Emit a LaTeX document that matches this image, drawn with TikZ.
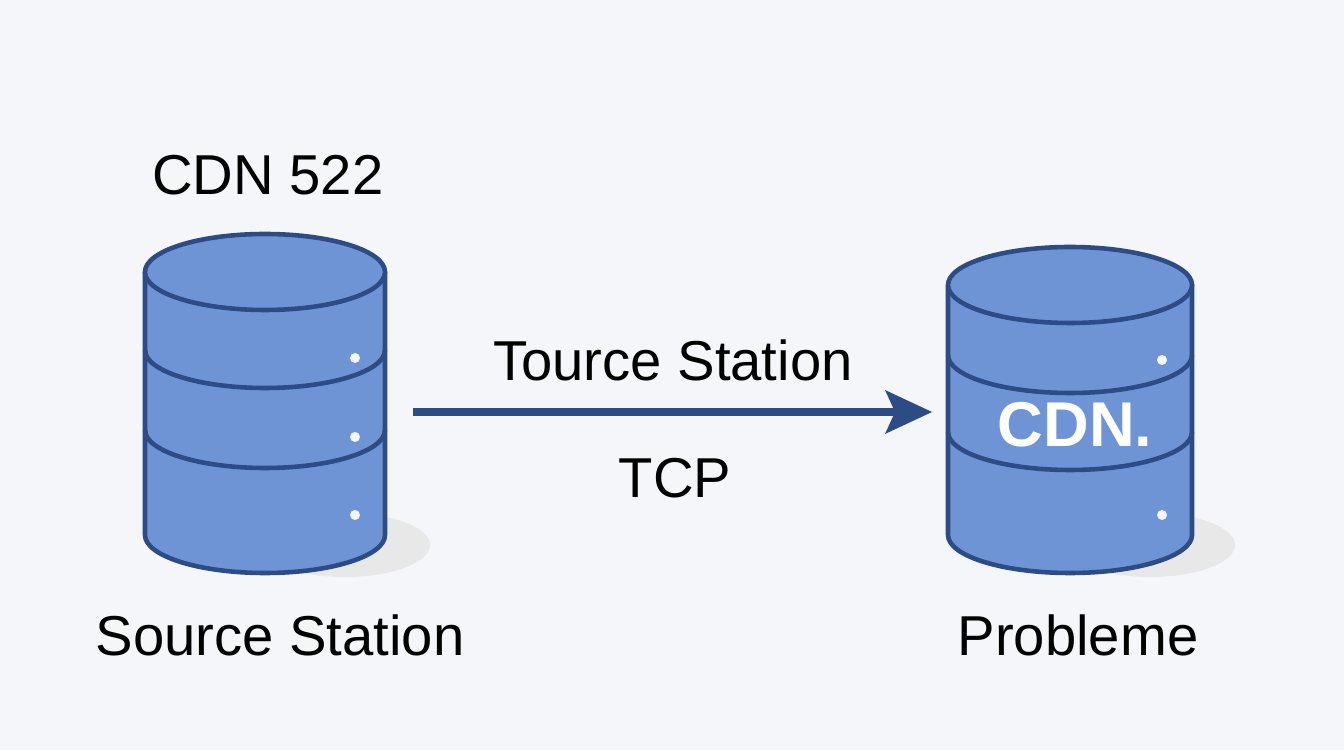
\documentclass[tikz,border=0pt]{standalone}
\usepackage{fontspec}
\setmainfont{Liberation Sans}
\begin{document}
\begin{tikzpicture}[x=0.02cm,y=0.02cm,
  cyl/.style={fill=cylfill,draw=cylline,line width=2.6pt,line join=round},
  band/.style={draw=cylline,line width=2.6pt},
  dot/.style={fill=white!92!cylfill,draw=none},
  lbl/.style={font=\fontsize{32}{36}\selectfont,text=black}]
\definecolor{cylfill}{HTML}{6F94D6}
\definecolor{cylline}{HTML}{2D4B85}
\definecolor{bg}{HTML}{F5F6FA}
\fill[bg] (0,0) rectangle (1344,750);
\useasboundingbox (0,0) rectangle (1344,750);
% shadows
\fill[gray!18] (345,205) ellipse[x radius=85,y radius=32];
\fill[gray!18] (1150,205) ellipse[x radius=85,y radius=32];
% left cylinder
\path[cyl] (145,478) -- (145,215) arc[start angle=180,end angle=360,x radius=120,y radius=38] -- (385,478) -- cycle;
\draw[band] (145,400) arc[start angle=180,end angle=360,x radius=120,y radius=38];
\draw[band] (145,320) arc[start angle=180,end angle=360,x radius=120,y radius=38];
\path[cyl] (265,478) ellipse[x radius=120,y radius=38];
\fill[dot] (355,392) circle[radius=5];
\fill[dot] (355,313) circle[radius=5];
\fill[dot] (355,235) circle[radius=5];
% right cylinder
\path[cyl] (948,465) -- (948,215) arc[start angle=180,end angle=360,x radius=122,y radius=38] -- (1192,465) -- cycle;
\draw[band] (948,395) arc[start angle=180,end angle=360,x radius=122,y radius=38];
\draw[band] (948,318) arc[start angle=180,end angle=360,x radius=122,y radius=38];
\path[cyl] (1070,465) ellipse[x radius=122,y radius=38];
\fill[dot] (1162,390) circle[radius=5];
\fill[dot] (1162,235) circle[radius=5];
% labels
\node[lbl] (t1) at (268,575) {CDN 522};
\node[lbl] (t2) at (280,115) {Source Station};
\node[lbl] (t3) at (673,390) {Tource Station};
\node[lbl] (t4) at (675,272) {TCP};
\node[lbl] (t5) at (1078,115) {Probleme};
\node[font=\fontsize{36}{40}\selectfont\bfseries,text=white] (t6) at (1075,325) {CDN.};
\coordinate (a) at (413,338);
\coordinate (b) at (932,338);
\draw[cylline,line width=4pt] (a) -- (895,338);
\fill[cylline] (b) -- (885,360) -- (895,338) -- (885,316) -- cycle;
\end{tikzpicture}
\end{document}
